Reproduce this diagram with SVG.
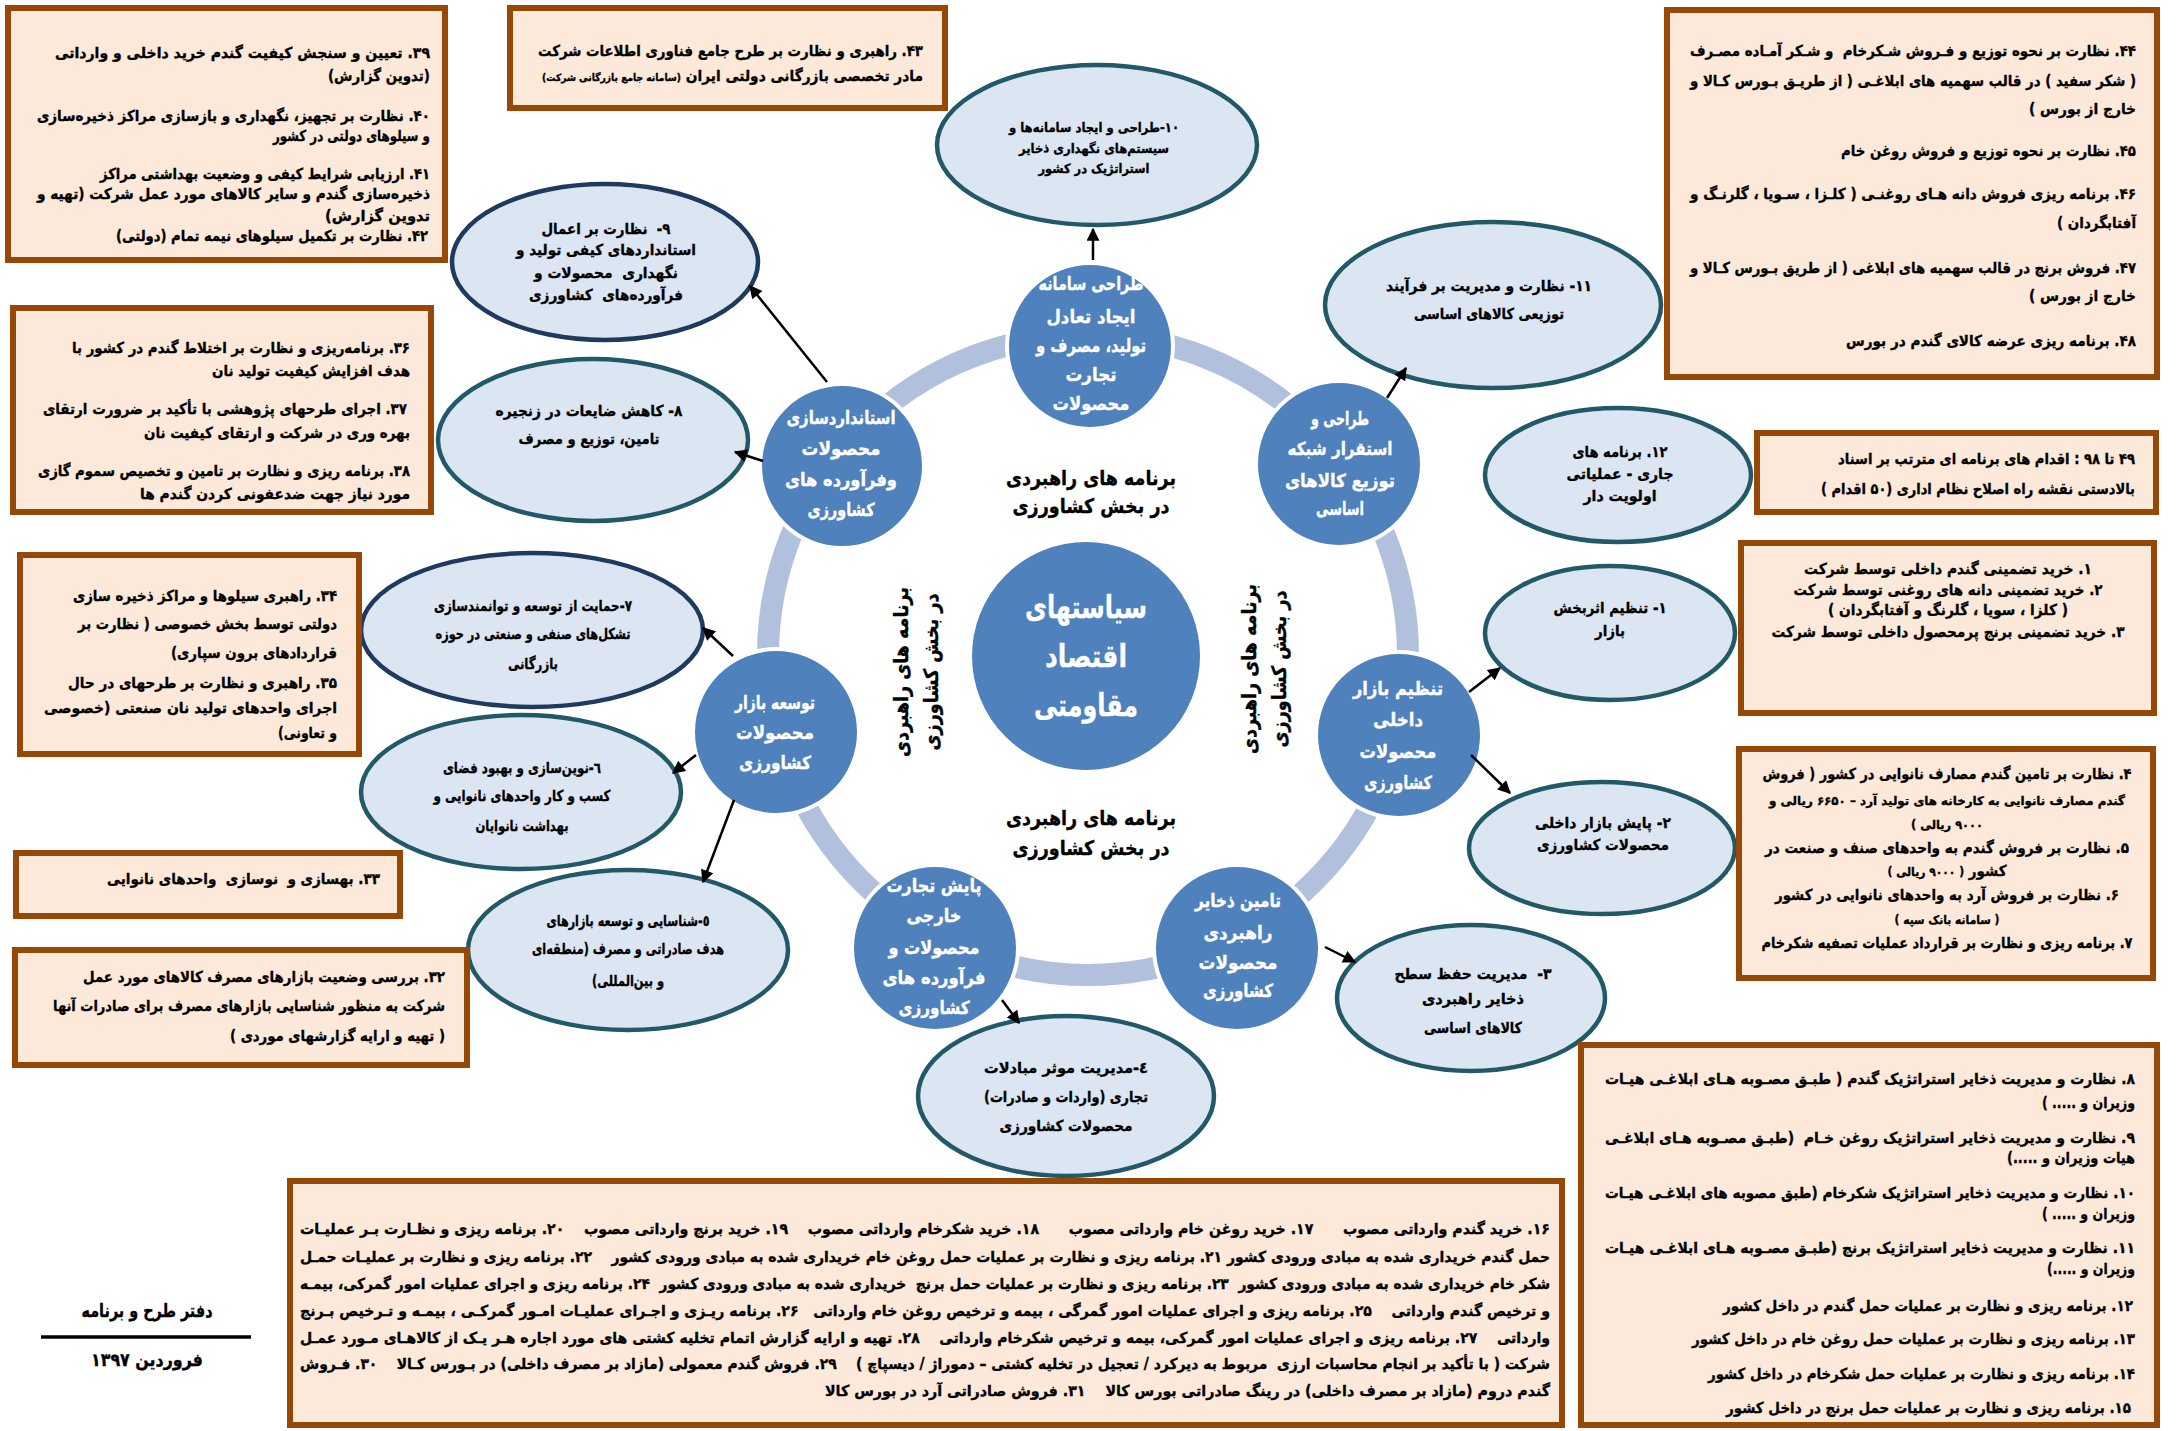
<svg xmlns="http://www.w3.org/2000/svg" width="2179" height="1431" viewBox="0 0 2179 1431">
<defs>
<style>
.bx{fill:#fde9d9;stroke:#974806;stroke-width:6}
.el{fill:#dce6f2;stroke:#215968;stroke-width:4.5}
.nv{stroke:#1f3a5f}
.ci{fill:#4f81bd;stroke:#ffffff;stroke-width:4}
.t{font-family:"DejaVu Sans",sans-serif;font-weight:bold;direction:rtl;fill:#000;stroke:#000;stroke-width:0.35}
.r{text-anchor:start}
.c{text-anchor:middle}
.w{fill:#ffffff;stroke:#ffffff}
.bf{font-size:15px}
.ef{font-size:15px}
.cf{font-size:18px}
.sm{font-size:12px}
#connectors line{stroke:#000;stroke-width:2.5;marker-end:url(#ah)}
</style>
<marker id="ah" viewBox="0 0 10 10" refX="9" refY="5" markerWidth="6.4" markerHeight="5.2" orient="auto" markerUnits="strokeWidth"><path d="M0,0 L10,5 L0,10 z" fill="#000"/></marker>
</defs>
<rect width="2179" height="1431" fill="#ffffff"/>

<g id="ring"><circle cx="1088" cy="655" r="320" fill="none" stroke="#b1c1dd" stroke-width="22"/></g>

<g id="center">
<circle class="ci" cx="1086" cy="656" r="116"/>
<text class="t c w" font-size="31" x="1086" y="618" textLength="122" lengthAdjust="spacingAndGlyphs">سیاستهای</text>
<text class="t c w" font-size="31" x="1086" y="667" textLength="82" lengthAdjust="spacingAndGlyphs">اقتصاد</text>
<text class="t c w" font-size="31" x="1086" y="716" textLength="104" lengthAdjust="spacingAndGlyphs">مقاومتی</text>
</g>

<g id="labels">
<text class="t c" font-size="20" x="1091" y="485" textLength="170" lengthAdjust="spacingAndGlyphs">برنامه های راهبردی</text>
<text class="t c" font-size="20" x="1091" y="513" textLength="157" lengthAdjust="spacingAndGlyphs">در بخش کشاورزی</text>
<text class="t c" font-size="20" x="1091" y="825" textLength="170" lengthAdjust="spacingAndGlyphs">برنامه های راهبردی</text>
<text class="t c" font-size="20" x="1091" y="855" textLength="157" lengthAdjust="spacingAndGlyphs">در بخش کشاورزی</text>
<text class="t c" font-size="20" transform="translate(918,672) rotate(-90)" x="0" y="-10" textLength="170" lengthAdjust="spacingAndGlyphs">برنامه های راهبردی</text>
<text class="t c" font-size="20" transform="translate(918,672) rotate(-90)" x="0" y="20" textLength="157" lengthAdjust="spacingAndGlyphs">در بخش کشاورزی</text>
<text class="t c" font-size="20" transform="translate(1266,669) rotate(-90)" x="0" y="-10" textLength="170" lengthAdjust="spacingAndGlyphs">برنامه های راهبردی</text>
<text class="t c" font-size="20" transform="translate(1266,669) rotate(-90)" x="0" y="20" textLength="157" lengthAdjust="spacingAndGlyphs">در بخش کشاورزی</text>
</g>

<g id="c-top">
<circle class="ci" cx="1090" cy="346" r="83"/>
<text class="t c w cf" x="1091" y="290" textLength="105" lengthAdjust="spacingAndGlyphs">طراحی سامانه</text>
<text class="t c w cf" x="1091" y="323" textLength="89" lengthAdjust="spacingAndGlyphs">ایجاد تعادل</text>
<text class="t c w cf" x="1091" y="352" textLength="110" lengthAdjust="spacingAndGlyphs">تولید، مصرف و</text>
<text class="t c w cf" x="1091" y="381" textLength="51" lengthAdjust="spacingAndGlyphs">تجارت</text>
<text class="t c w cf" x="1091" y="410" textLength="77" lengthAdjust="spacingAndGlyphs">محصولات</text>
</g>
<g id="c-topleft">
<circle class="ci" cx="842" cy="466" r="82"/>
<text class="t c w cf" x="841" y="424" textLength="109" lengthAdjust="spacingAndGlyphs">استانداردسازی</text>
<text class="t c w cf" x="841" y="455" textLength="79" lengthAdjust="spacingAndGlyphs">محصولات</text>
<text class="t c w cf" x="841" y="486" textLength="112" lengthAdjust="spacingAndGlyphs">وفرآورده های</text>
<text class="t c w cf" x="841" y="516" textLength="67" lengthAdjust="spacingAndGlyphs">کشاورزی</text>
</g>
<g id="c-topright">
<circle class="ci" cx="1339" cy="464" r="83"/>
<text class="t c w cf" x="1340" y="425" textLength="58" lengthAdjust="spacingAndGlyphs">طراحی و</text>
<text class="t c w cf" x="1340" y="455" textLength="105" lengthAdjust="spacingAndGlyphs">استقرار شبکه</text>
<text class="t c w cf" x="1340" y="487" textLength="110" lengthAdjust="spacingAndGlyphs">توزیع کالاهای</text>
<text class="t c w cf" x="1340" y="515" textLength="48" lengthAdjust="spacingAndGlyphs">اساسی</text>
</g>
<g id="c-right">
<circle class="ci" cx="1399" cy="735" r="83"/>
<text class="t c w cf" x="1398" y="695" textLength="90" lengthAdjust="spacingAndGlyphs">تنظیم بازار</text>
<text class="t c w cf" x="1398" y="726" textLength="50" lengthAdjust="spacingAndGlyphs">داخلی</text>
<text class="t c w cf" x="1398" y="758" textLength="77" lengthAdjust="spacingAndGlyphs">محصولات</text>
<text class="t c w cf" x="1398" y="789" textLength="68" lengthAdjust="spacingAndGlyphs">کشاورزی</text>
</g>
<g id="c-bottomright">
<circle class="ci" cx="1237" cy="948" r="83"/>
<text class="t c w cf" x="1238" y="907" textLength="86" lengthAdjust="spacingAndGlyphs">تامین ذخایر</text>
<text class="t c w cf" x="1238" y="939" textLength="69" lengthAdjust="spacingAndGlyphs">راهبردی</text>
<text class="t c w cf" x="1238" y="969" textLength="79" lengthAdjust="spacingAndGlyphs">محصولات</text>
<text class="t c w cf" x="1238" y="997" textLength="70" lengthAdjust="spacingAndGlyphs">کشاورزی</text>
</g>
<g id="c-bottom">
<circle class="ci" cx="935" cy="948" r="83"/>
<text class="t c w cf" x="934" y="892" textLength="95" lengthAdjust="spacingAndGlyphs">پایش تجارت</text>
<text class="t c w cf" x="934" y="922" textLength="55" lengthAdjust="spacingAndGlyphs">خارجی</text>
<text class="t c w cf" x="934" y="954" textLength="91" lengthAdjust="spacingAndGlyphs">محصولات و</text>
<text class="t c w cf" x="934" y="984" textLength="103" lengthAdjust="spacingAndGlyphs">فرآورده های</text>
<text class="t c w cf" x="934" y="1014" textLength="71" lengthAdjust="spacingAndGlyphs">کشاورزی</text>
</g>
<g id="c-left">
<circle class="ci" cx="776" cy="732" r="83"/>
<text class="t c w cf" x="775" y="709" textLength="80" lengthAdjust="spacingAndGlyphs">توسعه بازار</text>
<text class="t c w cf" x="775" y="739" textLength="78" lengthAdjust="spacingAndGlyphs">محصولات</text>
<text class="t c w cf" x="775" y="769" textLength="72" lengthAdjust="spacingAndGlyphs">کشاورزی</text>
</g>

<g id="e10">
<ellipse class="el" cx="1097" cy="145" rx="160" ry="80"/>
<text class="t c" font-size="13" x="1094" y="132" textLength="170" lengthAdjust="spacingAndGlyphs">۱۰-طراحی و ایجاد سامانه‌ها و</text>
<text class="t c" font-size="13" x="1094" y="153" textLength="150" lengthAdjust="spacingAndGlyphs">سیستم‌های نگهداری ذخایر</text>
<text class="t c" font-size="13" x="1094" y="173" textLength="111" lengthAdjust="spacingAndGlyphs">استراتژیک در کشور</text>
</g>
<g id="e9">
<ellipse class="el nv" cx="605" cy="262" rx="153" ry="78"/>
<text class="t c ef" x="606" y="234" textLength="129" lengthAdjust="spacingAndGlyphs" xml:space="preserve">۹-  نظارت بر اعمال</text>
<text class="t c ef" x="606" y="255" textLength="180" lengthAdjust="spacingAndGlyphs">استانداردهای کیفی تولید و</text>
<text class="t c ef" x="606" y="278" textLength="144" lengthAdjust="spacingAndGlyphs" xml:space="preserve">نگهداری  محصولات و</text>
<text class="t c ef" x="606" y="300" textLength="154" lengthAdjust="spacingAndGlyphs" xml:space="preserve">فرآورده‌های  کشاورزی</text>
</g>
<g id="e8">
<ellipse class="el" cx="593" cy="440" rx="155" ry="81"/>
<text class="t c ef" x="589" y="416" textLength="187" lengthAdjust="spacingAndGlyphs">۸- کاهش ضایعات در زنجیره</text>
<text class="t c ef" x="589" y="444" textLength="141" lengthAdjust="spacingAndGlyphs">تامین، توزیع و مصرف</text>
</g>
<g id="e7">
<ellipse class="el nv" cx="532" cy="630" rx="171" ry="77"/>
<text class="t c ef" x="533" y="611" textLength="198" lengthAdjust="spacingAndGlyphs">۷-حمایت از توسعه و توانمندسازی</text>
<text class="t c ef" x="533" y="639" textLength="195" lengthAdjust="spacingAndGlyphs">تشکل‌های صنفی و صنعتی در حوزه</text>
<text class="t c ef" x="533" y="669" textLength="50" lengthAdjust="spacingAndGlyphs">بازرگانی</text>
</g>
<g id="e6">
<ellipse class="el" cx="521" cy="792" rx="160" ry="77"/>
<text class="t c ef" x="522" y="773" textLength="158" lengthAdjust="spacingAndGlyphs">٦-نوین‌سازی و بهبود فضای</text>
<text class="t c ef" x="522" y="801" textLength="177" lengthAdjust="spacingAndGlyphs">کسب و کار واحدهای نانوایی و</text>
<text class="t c ef" x="522" y="831" textLength="93" lengthAdjust="spacingAndGlyphs">بهداشت نانوایان</text>
</g>
<g id="e5">
<ellipse class="el" cx="628" cy="950" rx="160" ry="80"/>
<text class="t c ef" x="628" y="926" textLength="163" lengthAdjust="spacingAndGlyphs">٥-شناسایی و توسعه بازارهای</text>
<text class="t c ef" x="628" y="954" textLength="192" lengthAdjust="spacingAndGlyphs">هدف صادراتی و مصرف (منطقه‌ای</text>
<text class="t c ef" x="628" y="986" textLength="72" lengthAdjust="spacingAndGlyphs">و بین‌المللی)</text>
</g>
<g id="e4">
<ellipse class="el" cx="1066" cy="1096" rx="148" ry="80"/>
<text class="t c ef" x="1066" y="1073" textLength="164" lengthAdjust="spacingAndGlyphs">٤-مدیریت موثر مبادلات</text>
<text class="t c ef" x="1066" y="1102" textLength="164" lengthAdjust="spacingAndGlyphs">تجاری (واردات و صادرات)</text>
<text class="t c ef" x="1066" y="1131" textLength="133" lengthAdjust="spacingAndGlyphs">محصولات کشاورزی</text>
</g>
<g id="e3">
<ellipse class="el" cx="1471" cy="998" rx="134" ry="73"/>
<text class="t c ef" x="1473" y="979" textLength="157" lengthAdjust="spacingAndGlyphs" xml:space="preserve">۳-  مدیریت حفظ سطح</text>
<text class="t c ef" x="1473" y="1004" textLength="102" lengthAdjust="spacingAndGlyphs">ذخایر راهبردی</text>
<text class="t c ef" x="1473" y="1033" textLength="98" lengthAdjust="spacingAndGlyphs">کالاهای اساسی</text>
</g>
<g id="e2">
<ellipse class="el" cx="1602" cy="848" rx="133" ry="66"/>
<text class="t c ef" x="1603" y="828" textLength="136" lengthAdjust="spacingAndGlyphs">۲- پایش بازار داخلی</text>
<text class="t c ef" x="1603" y="850" textLength="132" lengthAdjust="spacingAndGlyphs">محصولات کشاورزی</text>
</g>
<g id="e1">
<ellipse class="el" cx="1610" cy="633" rx="125" ry="67"/>
<text class="t c ef" x="1610" y="613" textLength="113" lengthAdjust="spacingAndGlyphs">۱- تنظیم اثربخش</text>
<text class="t c ef" x="1610" y="636" textLength="30" lengthAdjust="spacingAndGlyphs">بازار</text>
</g>
<g id="e12">
<ellipse class="el" cx="1618" cy="475" rx="133" ry="67"/>
<text class="t c ef" x="1620" y="457" textLength="95" lengthAdjust="spacingAndGlyphs">۱۲. برنامه های</text>
<text class="t c ef" x="1620" y="479" textLength="107" lengthAdjust="spacingAndGlyphs">جاری - عملیاتی</text>
<text class="t c ef" x="1620" y="501" textLength="73" lengthAdjust="spacingAndGlyphs">اولویت دار</text>
</g>
<g id="e11">
<ellipse class="el" cx="1493" cy="305" rx="168" ry="83"/>
<text class="t c ef" x="1489" y="291" textLength="206" lengthAdjust="spacingAndGlyphs">۱۱- نظارت و مدیریت بر فرآیند</text>
<text class="t c ef" x="1489" y="319" textLength="150" lengthAdjust="spacingAndGlyphs">توزیعی کالاهای اساسی</text>
</g>

<g id="box-39-42">
<rect class="bx" x="8" y="8" width="437" height="252"/>
<text class="t c bf" x="242.5" y="58" textLength="375" lengthAdjust="spacingAndGlyphs">۳۹. تعیین و سنجش کیفیت گندم خرید داخلی و وارداتی</text>
<text class="t c bf" x="379" y="81" textLength="102" lengthAdjust="spacingAndGlyphs">(تدوین گزارش)</text>
<text class="t c bf" x="233.5" y="121" textLength="393" lengthAdjust="spacingAndGlyphs">۴۰. نظارت بر تجهیز، نگهداری و بازسازی مراکز ذخیره‌سازی</text>
<text class="t c bf" x="351.5" y="141" textLength="157" lengthAdjust="spacingAndGlyphs">و سیلوهای دولتی در کشور</text>
<text class="t c bf" x="265" y="179" textLength="330" lengthAdjust="spacingAndGlyphs">۴۱. ارزیابی شرایط کیفی و وضعیت بهداشتی مراکز</text>
<text class="t c bf" x="233.5" y="199" textLength="393" lengthAdjust="spacingAndGlyphs">ذخیره‌سازی گندم و سایر کالاهای مورد عمل شرکت (تهیه و</text>
<text class="t c bf" x="377.5" y="221" textLength="105" lengthAdjust="spacingAndGlyphs">تدوین گزارش)</text>
<text class="t c bf" x="272" y="241" textLength="312" lengthAdjust="spacingAndGlyphs">۴۲. نظارت بر تکمیل سیلوهای نیمه تمام (دولتی)</text>
</g>
<g id="box-36-38">
<rect class="bx" x="13" y="308" width="418" height="204"/>
<text class="t c bf" x="241" y="353" textLength="338" lengthAdjust="spacingAndGlyphs">۳۶. برنامه‌ریزی و نظارت بر اختلاط گندم در کشور با</text>
<text class="t c bf" x="311" y="376" textLength="198" lengthAdjust="spacingAndGlyphs">هدف افزایش کیفیت تولید نان</text>
<text class="t c bf" x="225" y="414" textLength="364" lengthAdjust="spacingAndGlyphs">۳۷. اجرای طرحهای پژوهشی با تأکید بر ضرورت ارتقای</text>
<text class="t c bf" x="277" y="438" textLength="266" lengthAdjust="spacingAndGlyphs">بهره وری در شرکت و ارتقای کیفیت نان</text>
<text class="t c bf" x="224" y="476" textLength="372" lengthAdjust="spacingAndGlyphs">۳۸. برنامه ریزی و نظارت بر تامین و تخصیص سموم گازی</text>
<text class="t c bf" x="275" y="499" textLength="270" lengthAdjust="spacingAndGlyphs">مورد نیاز جهت ضدعفونی کردن گندم ها</text>
</g>
<g id="box-34-35">
<rect class="bx" x="20" y="555" width="339" height="199"/>
<text class="t c bf" x="205" y="601" textLength="264" lengthAdjust="spacingAndGlyphs">۳۴. راهبری سیلوها و مراکز ذخیره سازی</text>
<text class="t c bf" x="207.5" y="629" textLength="259" lengthAdjust="spacingAndGlyphs">دولتی توسط بخش خصوصی ( نظارت بر</text>
<text class="t c bf" x="254" y="658" textLength="166" lengthAdjust="spacingAndGlyphs">قراردادهای برون سپاری)</text>
<text class="t c bf" x="202.5" y="688" textLength="269" lengthAdjust="spacingAndGlyphs">۳۵. راهبری و نظارت بر طرحهای در حال</text>
<text class="t c bf" x="190.5" y="713" textLength="293" lengthAdjust="spacingAndGlyphs">اجرای واحدهای تولید نان صنعتی (خصوصی</text>
<text class="t c bf" x="307.5" y="738" textLength="59" lengthAdjust="spacingAndGlyphs">و تعاونی)</text>
</g>
<g id="box-33">
<rect class="bx" x="16" y="853" width="384" height="63"/>
<text class="t c bf" x="243.5" y="884" textLength="273" lengthAdjust="spacingAndGlyphs" xml:space="preserve">۳۳. بهسازی و  نوسازی  واحدهای نانوایی</text>
</g>
<g id="box-32">
<rect class="bx" x="15" y="950" width="452" height="115"/>
<text class="t c bf" x="264" y="982" textLength="362" lengthAdjust="spacingAndGlyphs">۳۲. بررسی وضعیت بازارهای مصرف کالاهای مورد عمل</text>
<text class="t c bf" x="249" y="1011" textLength="392" lengthAdjust="spacingAndGlyphs">شرکت به منظور شناسایی بازارهای مصرف برای صادرات آنها</text>
<text class="t c bf" x="337.5" y="1041" textLength="215" lengthAdjust="spacingAndGlyphs">( تهیه و ارایه گزارشهای موردی )</text>
</g>
<g id="box-43">
<rect class="bx" x="510" y="8" width="435" height="100"/>
<text class="t c bf" x="730.5" y="56" textLength="385" lengthAdjust="spacingAndGlyphs">۴۳. راهبری و نظارت بر طرح جامع فناوری اطلاعات شرکت</text>
<text class="t c bf" x="732.5" y="81" textLength="381" lengthAdjust="spacingAndGlyphs">مادر تخصصی بازرگانی دولتی ایران <tspan font-size="10">(سامانه جامع بازرگانی شرکت)</tspan></text>
</g>
<g id="box-44-48">
<rect class="bx" x="1667" y="10" width="490" height="367"/>
<text class="t c bf" x="1913" y="56" textLength="446" lengthAdjust="spacingAndGlyphs" xml:space="preserve">۴۴. نظارت بر نحوه توزیع و فـروش شـکرخام  و شـکر آمـاده مصـرف</text>
<text class="t c bf" x="1913" y="86" textLength="446" lengthAdjust="spacingAndGlyphs">( شکر سفید ) در قالب سهمیه های ابلاغـی ( از طریـق بـورس کـالا و</text>
<text class="t c bf" x="2082.5" y="114" textLength="107" lengthAdjust="spacingAndGlyphs">خارج از بورس )</text>
<text class="t c bf" x="1988.5" y="156" textLength="295" lengthAdjust="spacingAndGlyphs">۴۵. نظارت بر نحوه توزیع و فروش روغن خام</text>
<text class="t c bf" x="1913" y="199" textLength="446" lengthAdjust="spacingAndGlyphs">۴۶. برنامه ریزی فروش دانه هـای روغنـی ( کلـزا ، سـویا ، گلرنـگ و</text>
<text class="t c bf" x="2096.5" y="228" textLength="79" lengthAdjust="spacingAndGlyphs">آفتابگردان )</text>
<text class="t c bf" x="1913" y="273" textLength="446" lengthAdjust="spacingAndGlyphs">۴۷. فروش برنج در قالب سهمیه های ابلاغی ( از طریق بـورس کـالا و</text>
<text class="t c bf" x="2082.5" y="301" textLength="107" lengthAdjust="spacingAndGlyphs">خارج از بورس )</text>
<text class="t c bf" x="1991" y="346" textLength="290" lengthAdjust="spacingAndGlyphs">۴۸. برنامه ریزی عرضه کالای گندم در بورس</text>
</g>
<g id="box-49-98">
<rect class="bx" x="1757" y="433" width="399" height="79"/>
<text class="t c bf" x="1986.5" y="464" textLength="297" lengthAdjust="spacingAndGlyphs">۴۹ تا ۹۸ : اقدام های برنامه ای مترتب بر اسناد</text>
<text class="t c bf" x="1978" y="494" textLength="314" lengthAdjust="spacingAndGlyphs">بالادستی نقشه راه اصلاح نظام اداری (۵۰ اقدام )</text>
</g>
<g id="box-1-3">
<rect class="bx" x="1741" y="543" width="413" height="170"/>
<text class="t c bf" x="1948" y="574" textLength="288" lengthAdjust="spacingAndGlyphs">۱. خرید تضمینی گندم داخلی توسط شرکت</text>
<text class="t c bf" x="1948" y="595" textLength="309" lengthAdjust="spacingAndGlyphs">۲. خرید تضمینی دانه های روغنی توسط شرکت</text>
<text class="t c bf" x="1948" y="615" textLength="240" lengthAdjust="spacingAndGlyphs">( کلزا ، سویا ، گلرنگ و آفتابگردان )</text>
<text class="t c bf" x="1948" y="637" textLength="353" lengthAdjust="spacingAndGlyphs">۳. خرید تضمینی برنج پرمحصول داخلی توسط شرکت</text>
</g>
<g id="box-4-7">
<rect class="bx" x="1739" y="749" width="414" height="229"/>
<text class="t c bf" x="1947" y="779" textLength="369" lengthAdjust="spacingAndGlyphs">۴. نظارت بر تامین گندم مصارف نانوایی در کشور ( فروش</text>
<text class="t c sm" x="1947" y="805" textLength="356" lengthAdjust="spacingAndGlyphs">گندم مصارف نانوایی به کارخانه های تولید آرد – ۶۶۵۰ ریالی و</text>
<text class="t c sm" x="1947" y="829" textLength="72" lengthAdjust="spacingAndGlyphs">۹۰۰۰ ریالی )</text>
<text class="t c bf" x="1947" y="853" textLength="364" lengthAdjust="spacingAndGlyphs">۵. نظارت بر فروش گندم به واحدهای صنف و صنعت در</text>
<text class="t c bf" x="1947" y="876" textLength="119" lengthAdjust="spacingAndGlyphs">کشور <tspan font-size="12">( ۹۰۰۰ ریالی )</tspan></text>
<text class="t c bf" x="1947" y="900" textLength="344" lengthAdjust="spacingAndGlyphs">۶. نظارت بر فروش آرد به واحدهای نانوایی در کشور</text>
<text class="t c sm" x="1947" y="924" textLength="105" lengthAdjust="spacingAndGlyphs">( سامانه بانک سپه )</text>
<text class="t c bf" x="1947" y="948" textLength="371" lengthAdjust="spacingAndGlyphs">۷. برنامه ریزی و نظارت بر قرارداد عملیات تصفیه شکرخام</text>
</g>
<g id="box-8-15">
<rect class="bx" x="1581" y="1045" width="576" height="380"/>
<text class="t c bf" x="1870" y="1084" textLength="530" lengthAdjust="spacingAndGlyphs">۸. نظارت و مدیریت ذخایر استراتژیک گندم ( طبـق مصـوبه هـای ابلاغـی هیـات</text>
<text class="t c bf" x="2088.5" y="1108" textLength="93" lengthAdjust="spacingAndGlyphs">وزیران و ..... )</text>
<text class="t c bf" x="1870" y="1143" textLength="530" lengthAdjust="spacingAndGlyphs" xml:space="preserve">۹. نظارت و مدیریت ذخایر استراتژیک روغن خـام  (طبـق مصـوبه هـای ابلاغـی</text>
<text class="t c bf" x="2071" y="1163" textLength="128" lengthAdjust="spacingAndGlyphs">هیات وزیران و .....)</text>
<text class="t c bf" x="1870" y="1198" textLength="530" lengthAdjust="spacingAndGlyphs">۱۰. نظارت و مدیریت ذخایر استراتژیک شکرخام (طبق مصوبه های ابلاغـی هیـات</text>
<text class="t c bf" x="2088.5" y="1219" textLength="93" lengthAdjust="spacingAndGlyphs">وزیران و ..... )</text>
<text class="t c bf" x="1870" y="1253" textLength="530" lengthAdjust="spacingAndGlyphs">۱۱. نظارت و مدیریت ذخایر استراتژیک برنج (طبـق مصـوبه هـای ابلاغـی هیـات</text>
<text class="t c bf" x="2091" y="1274" textLength="88" lengthAdjust="spacingAndGlyphs">وزیران و .....)</text>
<text class="t c bf" x="1928" y="1311" textLength="410" lengthAdjust="spacingAndGlyphs">۱۲. برنامه ریزی و نظارت بر عملیات حمل گندم در داخل کشور</text>
<text class="t c bf" x="1913.5" y="1344" textLength="443" lengthAdjust="spacingAndGlyphs">۱۳. برنامه ریزی و نظارت بر عملیات حمل روغن خام در داخل کشور</text>
<text class="t c bf" x="1921.5" y="1379" textLength="427" lengthAdjust="spacingAndGlyphs">۱۴. برنامه ریزی و نظارت بر عملیات حمل شکرخام در داخل کشور</text>
<text class="t c bf" x="1928.5" y="1413" textLength="405" lengthAdjust="spacingAndGlyphs">۱۵. برنامه ریزی و نظارت بر عملیات حمل برنج در داخل کشور</text>
</g>
<g id="box-16-31">
<rect class="bx" x="290" y="1181" width="1272" height="244"/>
<text class="t c bf" x="925" y="1234" textLength="1250" lengthAdjust="spacingAndGlyphs" xml:space="preserve">۱۶. خرید گندم وارداتی مصوب      ۱۷. خرید روغن خام وارداتی مصوب      ۱۸. خرید شکرخام وارداتی مصوب    ۱۹. خرید برنج وارداتی مصوب    ۲۰. برنامه ریزی و نظـارت بـر عملیـات</text>
<text class="t c bf" x="925" y="1262" textLength="1250" lengthAdjust="spacingAndGlyphs" xml:space="preserve">حمل گندم خریداری شده به مبادی ورودی کشور ۲۱. برنامه ریزی و نظارت بر عملیات حمل روغن خام خریداری شده به مبادی ورودی کشور    ۲۲. برنامه ریزی و نظارت بر عملیـات حمـل</text>
<text class="t c bf" x="925" y="1289" textLength="1250" lengthAdjust="spacingAndGlyphs" xml:space="preserve">شکر خام خریداری شده به مبادی ورودی کشور  ۲۳. برنامه ریزی و نظارت بر عملیات حمل برنج  خریداری شده به مبادی ورودی کشور  ۲۴. برنامه ریزی و اجرای عملیات امور گمرکی، بیمـه</text>
<text class="t c bf" x="925" y="1316" textLength="1250" lengthAdjust="spacingAndGlyphs" xml:space="preserve">و ترخیص گندم وارداتی    ۲۵. برنامه ریزی و اجرای عملیات امور گمرگی ، بیمه و ترخیص روغن خام وارداتی   ۲۶. برنامه ریـزی و اجـرای عملیـات امـور گمرکـی ، بیمـه و تـرخیص بـرنج</text>
<text class="t c bf" x="925" y="1343" textLength="1250" lengthAdjust="spacingAndGlyphs" xml:space="preserve">وارداتی    ۲۷. برنامه ریزی و اجرای عملیات امور گمرکی، بیمه و ترخیص شکرخام وارداتی    ۲۸. تهیه و ارایه گزارش اتمام تخلیه کشتی های مورد اجاره هـر یـک از کالاهـای مـورد عمـل</text>
<text class="t c bf" x="925" y="1369" textLength="1250" lengthAdjust="spacingAndGlyphs" xml:space="preserve">شرکت ( با تأکید بر انجام محاسبات ارزی  مربوط به دیرکرد / تعجیل در تخلیه کشتی – دموراژ / دیسپاچ )    ۲۹. فروش گندم معمولی (مازاد بر مصرف داخلی) در بـورس کـالا    ۳۰. فـروش</text>
<text class="t c bf" x="1187.5" y="1396" textLength="725" lengthAdjust="spacingAndGlyphs" xml:space="preserve">گندم دروم (مازاد بر مصرف داخلی) در رینگ صادراتی بورس کالا    ۳۱. فروش صادراتی آرد در بورس کالا</text>
</g>

<g id="footer">
<text class="t c" font-size="18" x="147" y="1317" textLength="131" lengthAdjust="spacingAndGlyphs">دفتر طرح و برنامه</text>
<line x1="41" y1="1337" x2="251" y2="1337" stroke="#000" stroke-width="3.5"/>
<text class="t c" font-size="18" x="147" y="1366" textLength="112" lengthAdjust="spacingAndGlyphs">فروردین ۱۳۹۷</text>
</g>

<g id="connectors">
<line x1="1093" y1="260" x2="1093" y2="229"/>
<line x1="827" y1="382" x2="750" y2="286"/>
<line x1="763" y1="461" x2="735" y2="452"/>
<line x1="1387" y1="398" x2="1406" y2="368"/>
<line x1="1469" y1="692" x2="1500" y2="668"/>
<line x1="1471" y1="755" x2="1510" y2="793"/>
<line x1="1325" y1="947" x2="1355" y2="962"/>
<line x1="1002" y1="1000" x2="1019" y2="1023"/>
<line x1="733" y1="656" x2="703" y2="628"/>
<line x1="696" y1="755" x2="673" y2="773"/>
<line x1="734" y1="800" x2="703" y2="882"/>
</g>
</svg>
